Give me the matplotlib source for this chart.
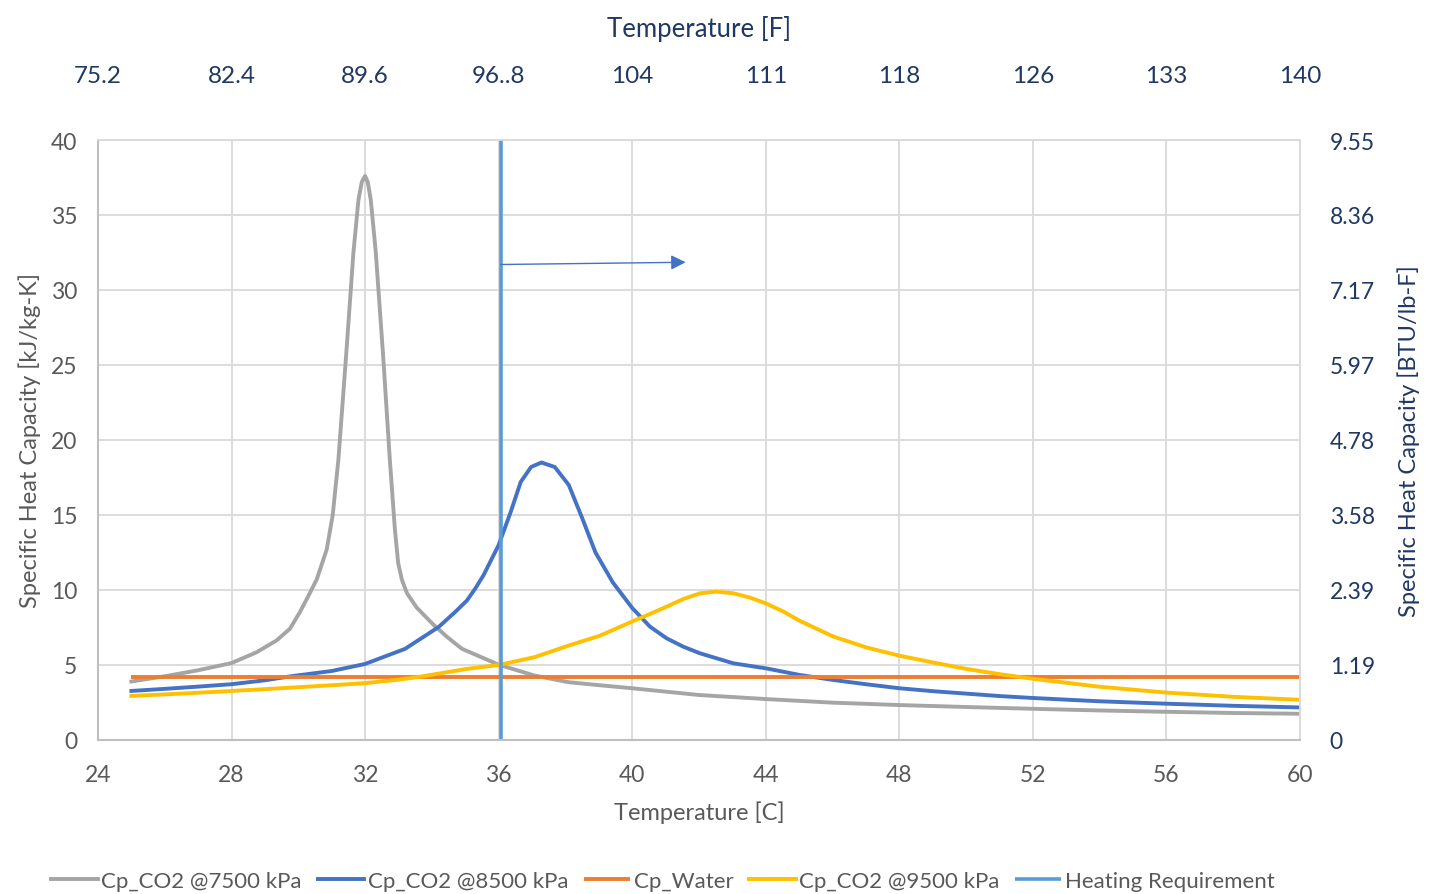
import matplotlib
matplotlib.use("Agg")
import matplotlib.pyplot as plt

plt.rcParams['font.family'] = ['Lato', 'DejaVu Sans']

# ---- data ----
t_7500 = [25, 26, 27, 28, 28.75, 29.35, 29.75, 30.05, 30.3, 30.55, 30.85, 31.03, 31.2, 31.43,
          31.65, 31.8, 31.9, 32.0, 32.08, 32.17, 32.32, 32.54, 32.74, 32.89, 32.99, 33.1,
          33.25, 33.54, 34.04, 34.44, 34.9, 35.5, 36.0, 37.07, 38.1, 39.03, 40, 42, 44, 46,
          48, 50, 52, 54, 56, 58, 60]
cp_7500 = [3.9, 4.25, 4.65, 5.13, 5.85, 6.64, 7.42, 8.54, 9.6, 10.7, 12.7, 15.0, 18.7, 25.6,
           32.5, 36.0, 37.2, 37.6, 37.2, 36.0, 32.5, 25.6, 18.7, 14.1, 11.8, 10.7,
           9.8, 8.84, 7.7, 6.9, 6.08, 5.5, 5.02, 4.3, 3.85, 3.65, 3.45, 3.0, 2.73, 2.49,
           2.33, 2.2, 2.08, 1.97, 1.88, 1.8, 1.75]

t_8500 = [25, 26, 27, 28, 29, 29.75, 31, 32, 33.2, 34.2, 34.7, 35.05, 35.3, 35.55, 36.0,
          36.36, 36.66, 36.97, 37.28, 37.68, 38.1, 38.5, 38.9, 39.42, 40, 40.53, 41.03,
          41.53, 42.03, 43.03, 44, 45.03, 46.03, 47.03, 48, 49.03, 51, 52, 54, 56, 58, 60]
cp_8500 = [3.27, 3.41, 3.56, 3.72, 3.98, 4.24, 4.6, 5.07, 6.08, 7.53, 8.54, 9.3, 10.1, 11.0,
           13.0, 15.2, 17.2, 18.2, 18.5, 18.2, 17.0, 14.8, 12.5, 10.5, 8.8, 7.56, 6.78,
           6.22, 5.78, 5.11, 4.78, 4.33, 4.0, 3.71, 3.45, 3.25, 2.93, 2.8, 2.58, 2.42,
           2.28, 2.17]

t_water = [25, 30, 35, 40, 45, 50, 55, 60]
cp_water = [4.19, 4.19, 4.19, 4.19, 4.19, 4.19, 4.19, 4.19]

t_9500 = [25, 26, 27, 28, 29, 30, 31, 32, 33, 33.7, 35.05, 36, 37.07, 38.1, 39.03, 40,
          40.53, 41.03, 41.53, 42.03, 42.53, 43.03, 43.53, 44, 44.53, 45.03, 46.03, 47.03,
          48, 49.03, 50.03, 51.03, 52, 54, 56, 58, 60]
cp_9500 = [2.94, 3.04, 3.15, 3.27, 3.39, 3.52, 3.65, 3.79, 4.02, 4.24, 4.74, 5.0, 5.52, 6.3,
           6.95, 7.9, 8.4, 8.89, 9.4, 9.78, 9.89, 9.78, 9.49, 9.11, 8.56, 7.93, 6.89, 6.16,
           5.62, 5.16, 4.73, 4.38, 4.08, 3.55, 3.16, 2.88, 2.68]

t_heat = [36.07, 36.07]
cp_heat = [0, 40]

arrow_start = (36.07, 31.7)
arrow_end = (41.6, 31.85)

x_ticks_c = [24, 28, 32, 36, 40, 44, 48, 52, 56, 60]
x_labels_f = ['75.2', '82.4', '89.6', '96..8', '104', '111', '118', '126', '133', '140']
y_ticks = [0, 5, 10, 15, 20, 25, 30, 35, 40]
y_labels_btu = ['0', '1.19', '2.39', '3.58', '4.78', '5.97', '7.17', '8.36', '9.55']

# ---- figure ----
fig = plt.figure(figsize=(14.29, 8.95), dpi=100)
ax = fig.add_axes([98/1429, 1-741/895, (1300-98)/1429, (741-141)/895])

gray_txt = '#595959'
navy = '#203864'
lw = 2.8

l1, = ax.plot(t_7500, cp_7500, color='#A5A5A5', lw=lw, label='Cp_CO2 @7500 kPa', solid_joinstyle='round')
l2, = ax.plot(t_8500, cp_8500, color='#4472C4', lw=lw, label='Cp_CO2 @8500 kPa', solid_joinstyle='round')
l3, = ax.plot(t_water, cp_water, color='#ED7D31', lw=lw, label='Cp_Water', solid_capstyle='butt')
l4, = ax.plot(t_9500, cp_9500, color='#FFC000', lw=lw, label='Cp_CO2 @9500 kPa', solid_joinstyle='round')
l5, = ax.plot(t_heat, cp_heat, color='#5B9BD5', lw=2.6, label='Heating Requirement', solid_capstyle='butt')

ax.annotate('', xy=arrow_end, xytext=arrow_start,
            arrowprops=dict(arrowstyle='-|>', color='#4472C4', lw=1.0,
                            mutation_scale=22, shrinkA=0, shrinkB=0))

ax.set_xlim(24, 60)
ax.set_ylim(0, 40)
ax.set_xticks(x_ticks_c)
ax.set_yticks(y_ticks)
ax.grid(True, color='#D9D9D9', lw=1.3)
ax.set_axisbelow(True)
for s in ['top', 'right']:
    ax.spines[s].set_color('#D9D9D9')
    ax.spines[s].set_linewidth(1.3)
for s in ['left', 'bottom']:
    ax.spines[s].set_color('#BFBFBF')
    ax.spines[s].set_linewidth(1.5)
ax.tick_params(length=0, labelsize=16.5, colors=gray_txt)
ax.tick_params(axis='x', pad=17)
ax.tick_params(axis='y', pad=15)
ax.set_xlabel('Temperature [C]', fontsize=17, color=gray_txt, labelpad=11)
ax.set_ylabel('Specific Heat Capacity [kJ/kg-K]', fontsize=17, color=gray_txt, labelpad=7)

# top (F) axis
axt = ax.twiny()
axt.set_xlim(ax.get_xlim())
axt.set_xticks(x_ticks_c)
axt.set_xticklabels(x_labels_f)
axt.tick_params(length=0, labelsize=17.5, colors=navy, pad=39)
axt.set_xlabel('Temperature [F]', fontsize=18.5, color=navy, labelpad=21)
for s in axt.spines.values():
    s.set_visible(False)

# right (BTU) axis
axr = ax.twinx()
axr.set_ylim(ax.get_ylim())
axr.set_yticks(y_ticks)
axr.set_yticklabels(y_labels_btu)
axr.tick_params(length=0, labelsize=16.5, colors=navy, pad=21.5)
axr.set_ylabel('Specific Heat Capacity [BTU/lb-F]', fontsize=17, color=navy, labelpad=16)
for s in axr.spines.values():
    s.set_visible(False)

fig.legend(handles=[l1, l2, l3, l4, l5], loc='center', ncol=5,
           bbox_to_anchor=(663/1429, 1-882/895), frameon=False,
           fontsize=16, labelcolor=gray_txt, handlelength=2.1,
           handletextpad=0.15, columnspacing=0.7)

fig.savefig('out.png', dpi=100)
